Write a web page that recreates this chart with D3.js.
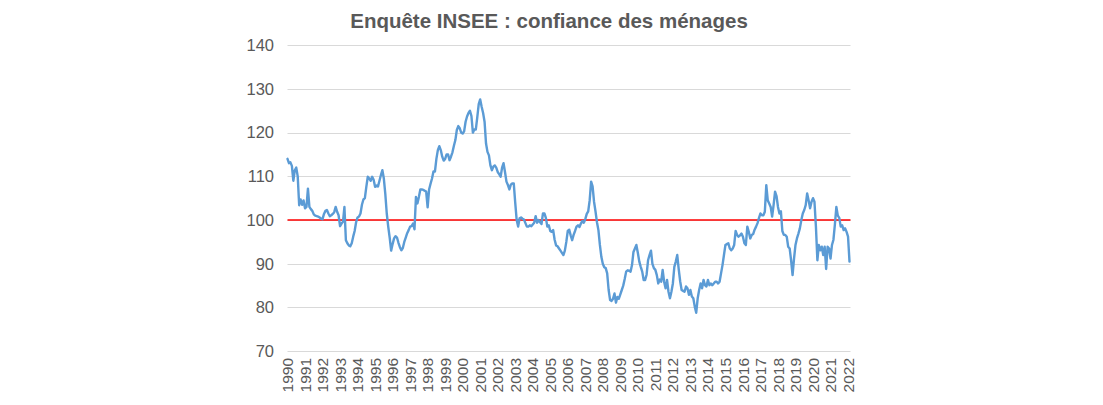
<!DOCTYPE html>
<html><head><meta charset="utf-8">
<script src="https://cdn.jsdelivr.net/npm/d3@7/dist/d3.min.js"></script>
<style>body{margin:0;background:#fff}svg{display:block}</style>
</head><body>
<svg id="chart" width="1103" height="405"></svg>
<script>
const title = "Enquête INSEE : confiance des ménages";
const yTicks = [70, 80, 90, 100, 110, 120, 130, 140];
const yearLabels = ["1990","1991","1992","1993","1994","1995","1996","1997","1998","1999","2000","2001","2002","2003","2004","2005","2006","2007","2008","2009","2010","2011","2012","2013","2014","2015","2016","2017","2018","2019","2020","2021","2022"];
const referenceLevel = 100;

const v1990 = [114, 113, 113.2, 112.4, 109, 111.4, 112, 110, 103.4, 104.7, 103.5, 104.5];
const v1991 = [102.7, 103, 107.2, 103, 102.5, 102.1, 101.3, 101, 100.9, 100.8, 100.6, 100.3];
const v1992 = [100.2, 101.4, 102.1, 102.3, 101.5, 100.9, 101.1, 101.4, 101.8, 103, 101.9, 101.1];
const v1993 = [98.6, 99.2, 99.6, 103, 95.4, 94.7, 94.2, 94.0, 94.7, 96.2, 97.5, 99.5];
const v1994 = [100.6, 100.8, 101.5, 103.5, 104.7, 105, 107.6, 109.9, 109.5, 109, 109.9, 109.2];
const v1995 = [107.6, 107.9, 107.7, 109, 110.3, 111.4, 109.5, 106, 101.5, 98.5, 96, 93];
const v1996 = [94.5, 95.8, 96.3, 96, 94.8, 93.8, 93.1, 93.6, 95, 96, 97, 97.7];
const v1997 = [98.5, 98.6, 99.2, 97.9, 105.3, 103.8, 105.3, 107, 107, 106.9, 106.7, 106.5];
const v1998 = [102.9, 107, 108.3, 109.5, 111.1, 111.1, 114, 116, 116.9, 116, 114.5, 113.6];
const v1999 = [114, 115, 115, 113.7, 114.5, 115.5, 117, 118.3, 120.6, 121.5, 121, 120];
const v2000 = [119.8, 120.3, 122.5, 123.7, 124.5, 125, 123.8, 120, 120.7, 120.7, 123.5, 126.5];
const v2001 = [127.6, 125.9, 124.5, 122.5, 117.5, 115.6, 114.8, 112.5, 111.4, 112.2, 112.5, 112];
const v2002 = [111, 110.5, 109.9, 112, 113, 111, 108.8, 108, 107, 108.1, 108.4, 108.4];
const v2003 = [104, 100, 98.5, 100.4, 100.6, 100.3, 100.1, 99.3, 98.5, 98.5, 98.8, 98.6];
const v2004 = [99, 99.4, 100.9, 99.4, 100, 99.5, 99.1, 101.5, 101.5, 100.5, 98.5, 98.8];
const v2005 = [97.5, 97.3, 97.7, 95.5, 94.2, 94, 93.5, 93, 92.5, 92, 93, 95];
const v2006 = [97.5, 97.8, 96.5, 95.4, 96.6, 97.5, 98.5, 98.8, 98.4, 99.2, 99.8, 99.4];
const v2007 = [100.2, 101.4, 102, 104.5, 108.8, 107.7, 104.2, 102, 99.5, 97.7, 94.3, 91.6];
const v2008 = [90, 89.2, 89, 87.8, 84, 81.7, 81.5, 82, 83.2, 81.1, 82.4, 82];
const v2009 = [83, 84, 85, 86.5, 88.2, 88.5, 88.4, 88.2, 89.7, 92.7, 93.5, 94.3];
const v2010 = [92.5, 90.5, 89.3, 88.2, 86.3, 86.3, 87.5, 90.8, 92, 93, 90, 89];
const v2011 = [88.6, 87.4, 85.5, 86.4, 85.9, 88.6, 85.9, 84.4, 86.3, 83.6, 82.1, 83.6];
const v2012 = [85.5, 89.3, 90.5, 92, 88.8, 86, 84, 83.8, 83.6, 84.8, 84.4, 82.9];
const v2013 = [84, 82.5, 82.1, 80.2, 78.8, 82.1, 84, 85.5, 84.4, 86.3, 85.1, 84.8];
const v2014 = [86.3, 85.1, 85.5, 85.1, 85.5, 85.9, 85.9, 85.5, 85.9, 87.8, 89.7, 92];
const v2015 = [94.3, 94.5, 94.7, 93.5, 93.1, 93.5, 94.3, 97.5, 96.6, 96.2, 96.5, 96.9];
const v2016 = [96.2, 94.7, 94.3, 98.5, 97.3, 95.8, 96.6, 96.8, 97.8, 98.5, 99.3, 100.5];
const v2017 = [101.5, 101.1, 101.1, 101.9, 108, 104.5, 103.8, 103, 100.8, 103.4, 106.5, 105.5];
const v2018 = [103, 101.5, 102, 97.5, 96.6, 96.6, 96.2, 93.9, 93.5, 90.8, 87.4, 91.2];
const v2019 = [94.3, 95.8, 96.9, 98.1, 100, 101.5, 102.3, 103.4, 106.1, 104.5, 102.7, 104.2];
const v2020 = [105, 104.2, 98.5, 90.8, 94.3, 93.1, 93.9, 92, 93.9, 88.8, 93.9, 93.5];
const v2021 = [91.2, 94.3, 95.5, 99, 103, 101, 100.5, 98.5, 98.8, 97.7, 98.1, 97.3];
const v2022 = [96.2, 90.5];

const confidence = [].concat(v1990, v1991, v1992, v1993, v1994, v1995, v1996, v1997, v1998, v1999,
  v2000, v2001, v2002, v2003, v2004, v2005, v2006, v2007, v2008, v2009, v2010, v2011, v2012,
  v2013, v2014, v2015, v2016, v2017, v2018, v2019, v2020, v2021, v2022);

const svg = d3.select("#chart");
const font = "Arial, 'Liberation Sans', sans-serif";
const textColor = "#595959";
const plotLeft = 287.5, plotRight = 850.5;

const x = d3.scaleLinear().domain([0, confidence.length - 1]).range([287.5, 849.5]);
const y = d3.scaleLinear().domain([70, 140]).range([351.2, 45.2]);

// title
svg.append("text")
  .attr("x", 549).attr("y", 27.5)
  .attr("text-anchor", "middle")
  .attr("font-family", font).attr("font-size", 20.5).attr("font-weight", "bold")
  .attr("fill", textColor)
  .text(title);

// gridlines
svg.append("g").selectAll("line").data(yTicks).join("line")
  .attr("x1", plotLeft).attr("x2", plotRight)
  .attr("y1", d => Math.round(y(d)) + 0.5).attr("y2", d => Math.round(y(d)) + 0.5)
  .attr("stroke", "#d9d9d9").attr("stroke-width", 1);

// y axis labels
const yAxis = d3.axisLeft(y).tickValues(yTicks).tickSize(0).tickPadding(0);
const gy = svg.append("g").attr("transform", "translate(274,0)").call(yAxis);
gy.select(".domain").remove();
gy.selectAll("text").attr("font-family", font).attr("font-size", 16.5).attr("fill", textColor);

// x axis labels (rotated years)
svg.append("g").selectAll("text").data(yearLabels).join("text")
  .attr("transform", (d, i) => `translate(${x(i * 12)},358) rotate(-90)`)
  .attr("text-anchor", "end")
  .attr("dy", "0.36em")
  .attr("font-family", font).attr("font-size", 15.5)
  .attr("fill", textColor)
  .text(d => d);

// reference line at 100
svg.append("line")
  .attr("x1", plotLeft).attr("x2", plotRight)
  .attr("y1", y(referenceLevel)).attr("y2", y(referenceLevel))
  .attr("stroke", "#ff0000").attr("stroke-width", 1.6);

// series line
const line = d3.line().x((d, i) => x(i)).y(d => y(d));
svg.append("path")
  .datum(confidence)
  .attr("d", line)
  .attr("fill", "none")
  .attr("stroke", "#5b9bd5")
  .attr("stroke-width", 2.4)
  .attr("stroke-linejoin", "round")
  .attr("stroke-linecap", "round");
</script>
</body></html>
